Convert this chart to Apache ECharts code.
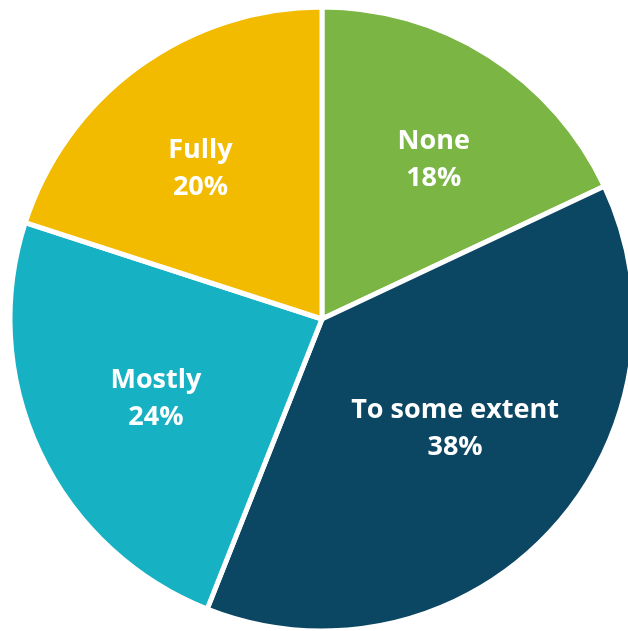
<!DOCTYPE html>
<html>
<head>
<meta charset="utf-8">
<script src="https://cdn.jsdelivr.net/npm/echarts@6/dist/echarts.min.js"></script>
<style>
  html, body { margin: 0; padding: 0; background: #ffffff; }
  #chart { width: 628px; height: 631px; }
</style>
</head>
<body>
<div id="chart"></div>
<script>
// Shares of responses, in order clockwise from 12 o'clock
const categories = ['None', 'To some extent', 'Mostly', 'Fully'];
const shares = [18, 38, 24, 20];
const colors = ['#7bb543', '#0b4662', '#16b1c2', '#f2bb00'];

// small nudges so each label sits where it reads best inside its slice
const labelNudge = [[11, 0], [-4, -19], [4, 0], [-11, 2]];

const sliceData = categories.map((name, i) => ({
  name: name,
  value: shares[i],
  itemStyle: { color: colors[i] }
}));

const labelData = categories.map((name, i) => ({
  name: name,
  value: shares[i],
  label: { offset: labelNudge[i] }
}));

const chart = echarts.init(document.getElementById('chart'), null, { renderer: 'canvas' });

chart.setOption({
  animation: false,
  series: [
    {
      // the visible slices
      type: 'pie',
      center: [322, 319],
      radius: [0, 312],
      startAngle: 90,
      clockwise: true,
      silent: true,
      label: { show: false },
      labelLine: { show: false },
      itemStyle: { borderColor: '#ffffff', borderWidth: 5 },
      data: sliceData
    },
    {
      // transparent ring carrying the slice labels a bit further out than mid-radius
      type: 'pie',
      center: [322, 319],
      radius: [58, 312],
      startAngle: 90,
      clockwise: true,
      silent: true,
      itemStyle: { color: 'rgba(0,0,0,0)' },
      label: {
        show: true,
        position: 'inside',
        formatter: '{b}\n{c}%',
        color: '#ffffff',
        fontFamily: 'Open Sans',
        fontWeight: 'bold',
        fontSize: 27,
        lineHeight: 37,
        align: 'center'
      },
      labelLine: { show: false },
      data: labelData
    }
  ]
});
</script>
</body>
</html>
